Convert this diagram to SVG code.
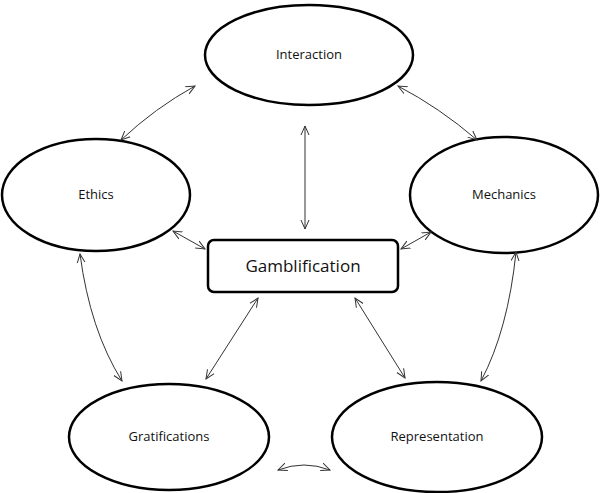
<svg xmlns="http://www.w3.org/2000/svg" width="600" height="493" viewBox="0 0 600 493">
<style>
.n{fill:#fff;stroke:#000;stroke-width:2.5}
.t{font-family:"Open Sans","Liberation Sans",sans-serif;font-size:13px;text-anchor:middle;fill:#111}
.c{fill:none;stroke:#333;stroke-width:1;marker-start:url(#a);marker-end:url(#a)}
</style>
<defs><marker id="a" viewBox="0 0 10 10" refX="9" refY="5" markerWidth="10" markerHeight="10" orient="auto-start-reverse" markerUnits="userSpaceOnUse"><path d="M0,1 L9,5 L0,9" fill="none" stroke="#333" stroke-width="1"/></marker></defs>
<rect width="600" height="493" fill="#fff"/>
<g id="interaction"><ellipse class="n" cx="309" cy="55" rx="104" ry="50"/><text class="t" x="309" y="59">Interaction</text></g>
<g id="ethics"><ellipse class="n" cx="96" cy="195" rx="94" ry="56"/><text class="t" x="96" y="199">Ethics</text></g>
<g id="mechanics"><ellipse class="n" cx="504" cy="195" rx="94" ry="58"/><text class="t" x="504" y="199">Mechanics</text></g>
<g id="gratifications"><ellipse class="n" cx="169" cy="437" rx="100" ry="53"/><text class="t" x="169" y="441">Gratifications</text></g>
<g id="representation"><ellipse class="n" cx="437" cy="437" rx="105" ry="55"/><text class="t" x="437" y="441">Representation</text></g>
<g id="gamblification"><rect class="n" x="208" y="240" width="190" height="52" rx="6"/><text class="t" x="303" y="272" style="font-size:17px">Gamblification</text></g>
<g id="connectors">
<path class="c" d="M195,86 Q155,108 121,140"/>
<path class="c" d="M398,86 Q440,108 477,140"/>
<path class="c" d="M305,126 L305,229"/>
<path class="c" d="M173,231 L205,249"/>
<path class="c" d="M431,232 L401,249"/>
<path class="c" d="M80,254 Q90,330 122,381"/>
<path class="c" d="M516,252 Q508,330 481,381"/>
<path class="c" d="M258,298 L206,379"/>
<path class="c" d="M355,298 L405,378"/>
<path class="c" d="M278,470 Q304,460 330,470"/>
</g>
</svg>
